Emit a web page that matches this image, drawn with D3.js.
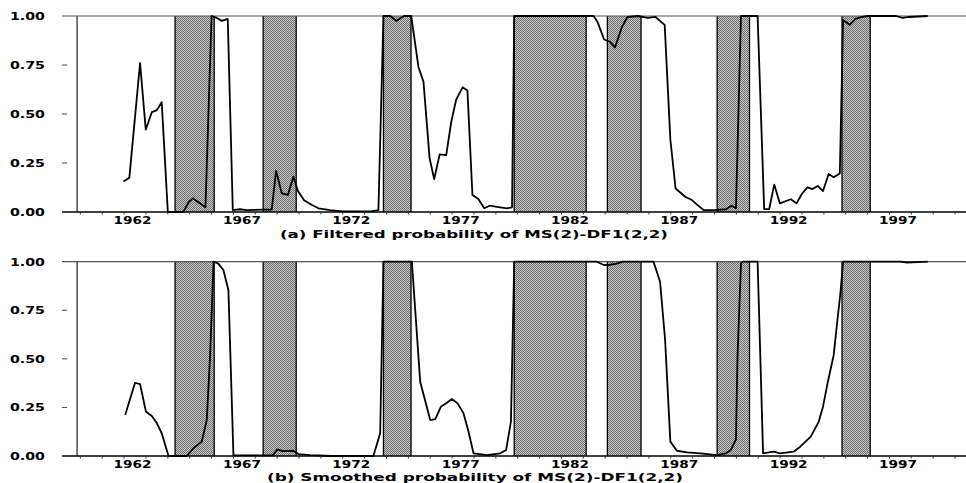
<!DOCTYPE html>
<html>
<head>
<meta charset="utf-8">
<script src="https://cdn.jsdelivr.net/npm/d3@7"></script>
<style>
  html, body { margin: 0; padding: 0; background: #fff; }
  svg { display: block; }
  text { font-family: "DejaVu Sans", "Liberation Sans", sans-serif; font-weight: bold; fill: #000; }
</style>
</head>
<body>
<svg id="chart" width="966" height="483"></svg>
<script>
// ---------------- DATA ----------------
const yTickValues = [0, 0.25, 0.5, 0.75, 1];
const yTickLabels = ["0.00", "0.25", "0.50", "0.75", "1.00"];
const xTickYears = [1962, 1967, 1972, 1977, 1982, 1987, 1992, 1997];
const xTickLabels = ["1962", "1967", "1972", "1977", "1982", "1987", "1992", "1997"];

// shaded periods (decimal years)
const shadeStart = [1964.33, 1968.36, 1973.86, 1979.84, 1984.10, 1989.12, 1994.83];
const shadeEnd   = [1966.12, 1969.87, 1975.12, 1983.13, 1985.64, 1990.60, 1996.12];

// (a) filtered probability
const filtT = [1961.97,1962.24,1962.73,1962.99,1963.27,1963.5,1963.72,1964.0,1964.71,1964.95,1965.14,1965.4,1965.72,
  1966.0,1966.24,1966.47,1966.74,1966.97,1967.3,1967.6,1968.37,1968.75,1968.95,1969.21,1969.49,1969.74,1969.95,
  1970.23,1970.59,1970.89,1971.42,1972.0,1973.3,1973.63,1973.86,1974.17,1974.44,1974.8,1975.13,1975.46,1975.69,
  1975.97,1976.18,1976.43,1976.73,1976.96,1977.19,1977.48,1977.7,1977.93,1978.2,1978.47,1978.71,1979.2,1979.51,
  1979.74,1979.84,1983.47,1983.65,1983.95,1984.2,1984.45,1984.77,1985.02,1985.5,1985.95,1986.3,1986.72,1986.98,
  1987.22,1987.66,1987.97,1988.17,1988.5,1988.98,1989.52,1989.78,1989.98,1990.21,1990.97,1991.27,1991.5,1991.73,
  1991.99,1992.49,1992.75,1992.99,1993.25,1993.48,1993.72,1993.96,1994.22,1994.45,1994.73,1994.88,1995.18,1995.44,
  1995.75,1996.0,1997.3,1997.6,1997.9,1998.75];
const filtV = [0.155,0.175,0.76,0.42,0.51,0.52,0.56,0.0,0.0,0.05,0.07,0.05,0.024,
  1.0,0.99,0.975,0.985,0.01,0.014,0.01,0.012,0.012,0.21,0.095,0.087,0.18,0.107,
  0.06,0.036,0.019,0.01,0.003,0.003,0.01,1.0,1.0,0.975,1.0,1.0,0.74,0.665,
  0.274,0.168,0.294,0.29,0.46,0.575,0.636,0.62,0.087,0.066,0.019,0.032,0.024,0.019,
  0.024,1.0,1.0,0.97,0.88,0.87,0.84,0.945,0.995,1.0,0.99,0.995,0.955,0.37,
  0.12,0.078,0.061,0.04,0.01,0.01,0.014,0.032,0.019,1.0,1.0,0.015,0.015,0.14,
  0.044,0.065,0.044,0.092,0.126,0.117,0.133,0.107,0.194,0.177,0.197,0.98,0.955,0.985,
  0.995,1.0,1.0,0.99,0.995,1.0];

// (b) smoothed probability
const smoT = [1962.05,1962.5,1962.73,1963.0,1963.27,1963.5,1963.72,1964.03,1964.87,1965.17,1965.55,1965.78,1965.93,
  1966.09,1966.31,1966.54,1966.77,1967.0,1968.8,1969.01,1969.25,1969.74,1969.97,1970.5,1971.5,1973.4,1973.71,
  1973.86,1975.16,1975.54,1976.0,1976.23,1976.49,1976.76,1976.99,1977.25,1977.52,1977.75,1977.98,1978.6,1979.2,
  1979.47,1979.69,1979.84,1983.62,1983.93,1984.17,1984.53,1984.8,1986.21,1986.51,1986.74,1986.98,1987.28,1987.74,
  1988.35,1989.1,1989.52,1989.75,1989.98,1990.05,1990.21,1990.3,1990.97,1991.22,1991.7,1992.0,1992.62,1992.92,
  1993.4,1993.76,1993.96,1994.18,1994.45,1994.62,1994.75,1994.88,1997.5,1997.8,1998.75];
const smoV = [0.211,0.377,0.37,0.228,0.206,0.168,0.117,0.0,0.0,0.04,0.074,0.185,0.51,
  1.0,0.99,0.957,0.854,0.003,0.003,0.034,0.025,0.027,0.01,0.004,0.0,0.0,0.117,
  1.0,1.0,0.382,0.185,0.19,0.254,0.274,0.293,0.271,0.22,0.125,0.014,0.005,0.014,
  0.031,0.177,1.0,1.0,0.983,0.983,0.99,1.0,1.0,0.897,0.597,0.074,0.027,0.019,
  0.014,0.005,0.014,0.031,0.085,0.51,0.99,1.0,1.0,0.014,0.022,0.014,0.022,0.048,
  0.1,0.175,0.254,0.38,0.52,0.7,0.83,1.0,1.0,0.995,1.0];

const titleA = "(a) Filtered probability of MS(2)-DF1(2,2)";
const titleB = "(b) Smoothed probability of MS(2)-DF1(2,2)";

// ---------------- DRAW ----------------
const svg = d3.select("#chart");
const defs = svg.append("defs");
const pat = defs.append("pattern").attr("id", "dither")
  .attr("width", 2).attr("height", 2).attr("patternUnits", "userSpaceOnUse");
pat.append("rect").attr("width", 2).attr("height", 2).attr("fill", "#c6c6c6");
pat.append("rect").attr("x", 0).attr("y", 0).attr("width", 1).attr("height", 1).attr("fill", "#707070");
pat.append("rect").attr("x", 1).attr("y", 1).attr("width", 1).attr("height", 1).attr("fill", "#707070");

const x = d3.scaleLinear().domain([1959.16, 2000.5]).range([62, 966]);
const axisYear = 1959.85;
const labelOffset = 0.39;

function panel(yTop, yBottom, times, values, title, titleX, titleW, titleY) {
  const y = d3.scaleLinear().domain([0, 1]).range([yBottom, yTop]);
  const g = svg.append("g");

  // shading
  const shades = d3.range(shadeStart.length).map(i => [shadeStart[i], shadeEnd[i]]);
  g.selectAll("rect.shade").data(shades).enter().append("rect")
    .attr("class", "shade")
    .attr("x", d => x(d[0])).attr("width", d => x(d[1]) - x(d[0]))
    .attr("y", y(1)).attr("height", y(0) - y(1))
    .attr("fill", "url(#dither)");
  shades.forEach(d => {
    [d[0], d[1]].forEach(v => {
      g.append("line").attr("x1", x(v)).attr("x2", x(v))
        .attr("y1", y(1)).attr("y2", y(0))
        .attr("stroke", "#000").attr("stroke-width", 1.3);
    });
  });

  // left vertical line
  g.append("line").attr("x1", x(axisYear)).attr("x2", x(axisYear))
    .attr("y1", y(1)).attr("y2", y(0)).attr("stroke", "#222").attr("stroke-width", 1.2);

  // top line at 1.00
  g.append("line").attr("x1", x.range()[0]).attr("x2", x.range()[1])
    .attr("y1", y(1)).attr("y2", y(1)).attr("stroke", "#555").attr("stroke-width", 1.2);

  // y ticks (short dashes)
  g.selectAll("line.ytick").data(yTickValues.filter(v => v > 0 && v < 1)).enter().append("line")
    .attr("x1", 62).attr("x2", 67).attr("y1", d => y(d)).attr("y2", d => y(d))
    .attr("stroke", "#444").attr("stroke-width", 1);

  // y labels
  g.selectAll("text.ylab").data(yTickValues).enter().append("text")
    .attr("x", 45).attr("y", d => y(d) + 3.8)
    .attr("text-anchor", "end").attr("font-size", 10)
    .attr("textLength", 35).attr("lengthAdjust", "spacingAndGlyphs")
    .text((d, i) => yTickLabels[i]);

  // data line
  const pts = times.map((t, i) => [t, values[i]]);
  g.append("path").datum(pts)
    .attr("fill", "none").attr("stroke", "#000").attr("stroke-width", 1.8)
    .attr("stroke-linejoin", "round")
    .attr("d", d3.line().x(d => x(d[0])).y(d => y(d[1])));

  // x axis baseline
  g.append("line").attr("x1", x.range()[0]).attr("x2", x.range()[1])
    .attr("y1", y(0)).attr("y2", y(0)).attr("stroke", "#000").attr("stroke-width", 1.5);

  // year ticks
  const years = d3.range(1960, 2001);
  g.selectAll("line.xtick").data(years).enter().append("line")
    .attr("x1", d => x(d)).attr("x2", d => x(d))
    .attr("y1", y(0)).attr("y2", y(0) + 2.5)
    .attr("stroke", "#333").attr("stroke-width", 1);

  // year labels
  g.selectAll("text.xlab").data(xTickYears).enter().append("text")
    .attr("x", d => x(d + labelOffset)).attr("y", y(0) + 12)
    .attr("text-anchor", "middle").attr("font-size", 10)
    .attr("textLength", 38).attr("lengthAdjust", "spacingAndGlyphs")
    .text((d, i) => xTickLabels[i]);

  // title
  g.append("text").attr("x", titleX).attr("y", titleY)
    .attr("font-size", 10.5)
    .attr("textLength", titleW).attr("lengthAdjust", "spacingAndGlyphs")
    .text(title);
}

panel(16, 212, filtT, filtV, titleA, 280, 388, 238);
panel(261.7, 456, smoT, smoV, titleB, 267, 416, 481);
</script>
</body>
</html>
